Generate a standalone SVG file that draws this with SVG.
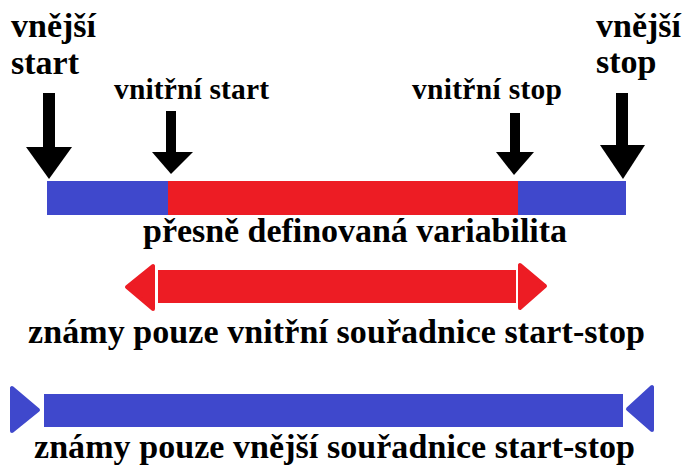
<svg xmlns="http://www.w3.org/2000/svg" width="683" height="466" viewBox="0 0 683 466">
  <style>
    .lbl { font-family: "Liberation Serif", "DejaVu Serif", serif; font-weight: bold; fill: #000; }
    .big { font-size: 34px; }
    .mid { font-size: 29.5px; }
    .red { fill: #ED1C24; }
    .blue { fill: #3F48CC; }
    .redhead { fill: #ED1C24; stroke: #ED1C24; stroke-width: 4; stroke-linejoin: round; }
    .bluehead { fill: #3F48CC; stroke: #3F48CC; stroke-width: 4; stroke-linejoin: round; }
    .pointer { fill: #000; }
  </style>
  <rect width="683" height="466" fill="#fff"/>

  <!-- top labels -->
  <g id="outer-start-label">
    <text class="lbl big" x="11" y="37">vnější</text>
    <text class="lbl big" x="11" y="74">start</text>
  </g>
  <g id="outer-stop-label">
    <text class="lbl big" x="596" y="37">vnější</text>
    <text class="lbl big" x="596" y="73">stop</text>
  </g>
  <g id="inner-start-label">
    <text class="lbl mid" x="114" y="99" textLength="155">vnitřní start</text>
  </g>
  <g id="inner-stop-label">
    <text class="lbl mid" x="412" y="99" textLength="150">vnitřní stop</text>
  </g>

  <!-- reference bar: outer segments blue, defined core red -->
  <g id="defined-bar">
    <rect class="blue" x="47" y="181" width="121" height="34"/>
    <rect class="red" x="168" y="181" width="350" height="34"/>
    <rect class="blue" x="518" y="181" width="108" height="34"/>
    <text class="lbl big" x="143" y="242" textLength="424">přesně definovaná variabilita</text>
  </g>

  <!-- pointers down onto the bar -->
  <g id="connectors">
    <g id="ptr-outer-start" class="pointer">
      <rect x="43" y="93" width="12" height="55"/>
      <polygon points="26,147 72,147 49,179"/>
    </g>
    <g id="ptr-inner-start" class="pointer">
      <rect x="166" y="111" width="10" height="42"/>
      <polygon points="152,152 193,152 171,174"/>
    </g>
    <g id="ptr-inner-stop" class="pointer">
      <rect x="510" y="113" width="10" height="40"/>
      <polygon points="496,152 534,152 514,175"/>
    </g>
    <g id="ptr-outer-stop" class="pointer">
      <rect x="616" y="93" width="12" height="53"/>
      <polygon points="600,145 645,145 623,179"/>
    </g>
  </g>

  <!-- inner coordinates only: red span with outward heads -->
  <g id="inner-span">
    <rect class="red" x="158" y="270" width="358" height="33"/>
    <polygon class="redhead" points="153,266 153,309 127,287"/>
    <polygon class="redhead" points="520,265 520,308 545,286"/>
    <text class="lbl big" x="28" y="343" textLength="617">známy pouze vnitřní souřadnice start-stop</text>
  </g>

  <!-- outer coordinates only: blue span with inward heads -->
  <g id="outer-span">
    <rect class="blue" x="44" y="394" width="579" height="33"/>
    <polygon class="bluehead" points="12,388 12,431 38,410"/>
    <polygon class="bluehead" points="652,387 652,430 628,409"/>
    <text class="lbl big" x="34" y="458" textLength="601">známy pouze vnější souřadnice start-stop</text>
  </g>
</svg>
